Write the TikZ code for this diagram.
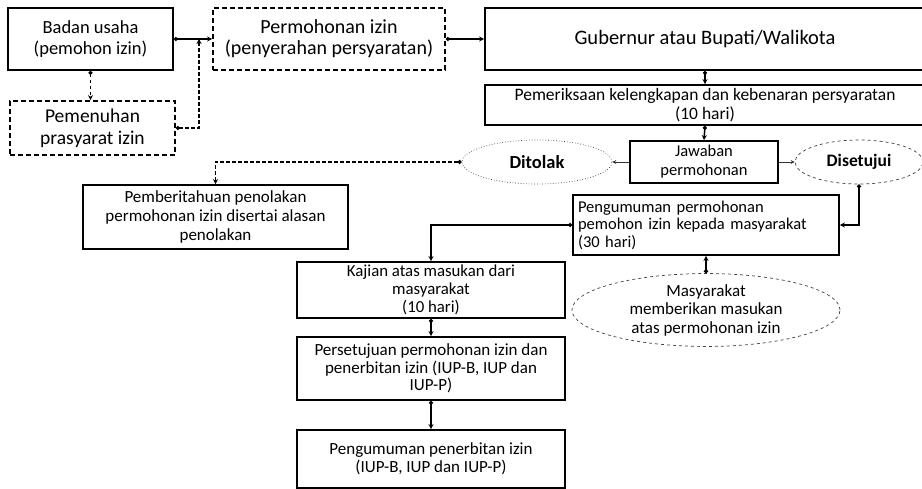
\documentclass[tikz,border=0pt]{standalone}
\usepackage{fontspec}
\setmainfont{Carlito}
\usetikzlibrary{arrows.meta,shapes.geometric}
\tikzset{
  box/.style={draw, line width=1.8pt, align=center, inner sep=2pt},
  dbox/.style={box, dash pattern=on 5pt off 3pt},
  oval/.style={ellipse, draw=black!75, line width=0.7pt, align=center, inner sep=0pt},
  fs/.style 2 args={font=\fontsize{#1}{#2}\selectfont},
  link/.style={line width=1.5pt, -{Stealth[length=5pt,width=5pt]}},
  dotlink/.style={link, {Circle[length=4pt]}-{Stealth[length=5pt,width=5pt]}},
  thin link/.style={line width=0.8pt, draw=black!80, -{Stealth[length=4pt,width=4pt]}},
}
\begin{document}
\begin{tikzpicture}[x=1pt,y=-1pt]
\useasboundingbox (0,0) rectangle (922,489);

% upper row
\node[box, fs={18.5}{21}, minimum width=165pt, minimum height=62pt] (badan) at (90.5,39) {Badan usaha\\(pemohon izin)};
\node[dbox, fs={19.5}{22}, minimum width=165pt, minimum height=54pt] (syarat) at (92.5,128) {Pemenuhan\\prasyarat izin};
\node[dbox, fs={20}{21}, minimum width=232pt, minimum height=62pt] (mohon) at (329,39) {Permohonan izin\\(penyerahan persyaratan)};
\node[box, fs={20.5}{22}, minimum width=440pt, minimum height=62pt] (gub) at (705,39) {Gubernur atau Bupati/Walikota};
\node[box, fs={17.5}{19}, minimum width=440pt, minimum height=40pt] (periksa) at (705,105) {Pemeriksaan kelengkapan dan kebenaran persyaratan\\(10 hari)};

% decision
\node[box, fs={16.5}{19}, minimum width=148pt, minimum height=42pt] (jawab) at (704,162) {Jawaban\\permohonan};
\node[oval, fs={18.5}{22}, dotted, minimum width=150pt, minimum height=44pt] (tolak) at (537,162) {\bfseries Ditolak};
\node[oval, fs={17.5}{22}, dashed, minimum width=128pt, minimum height=44pt] (setuju) at (859,162) {\bfseries Disetujui};
\node[box, fs={17}{19}, minimum width=265pt, minimum height=64pt] (beritahu) at (215.5,217) {Pemberitahuan penolakan\\permohonan izin disertai alasan\\penolakan};

% approval path
\node[box, fs={16.5}{17.5}, align=left, minimum width=266pt, minimum height=60pt, text width=256pt] (umum) at (706,225) {Pengumuman permohonan\\pemohon izin kepada masyarakat\\(30 hari)};
\node[oval, fs={17}{18.5}, dashed, minimum width=268pt, minimum height=72pt] (warga) at (706,310) {Masyarakat\\memberikan masukan\\atas permohonan izin};
\node[box, fs={16.8}{18}, minimum width=268pt, minimum height=56pt] (kaji) at (431,290) {Kajian atas masukan dari\\masyarakat\\(10 hari)};
\node[box, fs={17}{17.5}, minimum width=268pt, minimum height=63pt] (terbit) at (431,368.5) {Persetujuan permohonan izin dan\\penerbitan izin (IUP-B, IUP dan\\IUP-P)};
\node[box, fs={17}{18}, minimum width=268pt, minimum height=58pt] (umumizin) at (431,459) {Pengumuman penerbitan izin\\(IUP-B, IUP dan IUP-P)};

\coordinate (join) at (199,39);

% connectors
\draw[dotlink] (badan.east) -- (mohon.west);
\draw[dotlink, dashed] (badan.south) -- (badan.south |- syarat.north);
\draw[dotlink, dash pattern=on 4pt off 2pt] (syarat.east) -| (join);
\draw[dotlink] (mohon.east) -- (gub.west);
\draw[dotlink] (gub.south) -- (periksa.north);
\draw[dotlink] (periksa.south) -- (jawab.north);
\draw[thin link] (jawab.west) -- (tolak.east);
\draw[thin link] (jawab.east) -- (setuju.west);
\draw[dotlink, dash pattern=on 4pt off 2pt] (tolak.west) -| (beritahu.north);
\draw[dotlink] (setuju.south) |- (umum.east);
\draw[dotlink] (umum.west) -| (kaji.north);
\draw[dotlink] (warga.north) -- (umum.south);
\draw[dotlink] (kaji.south) -- (terbit.north);
\draw[dotlink] (terbit.south) -- (umumizin.north);
\end{tikzpicture}
\end{document}
